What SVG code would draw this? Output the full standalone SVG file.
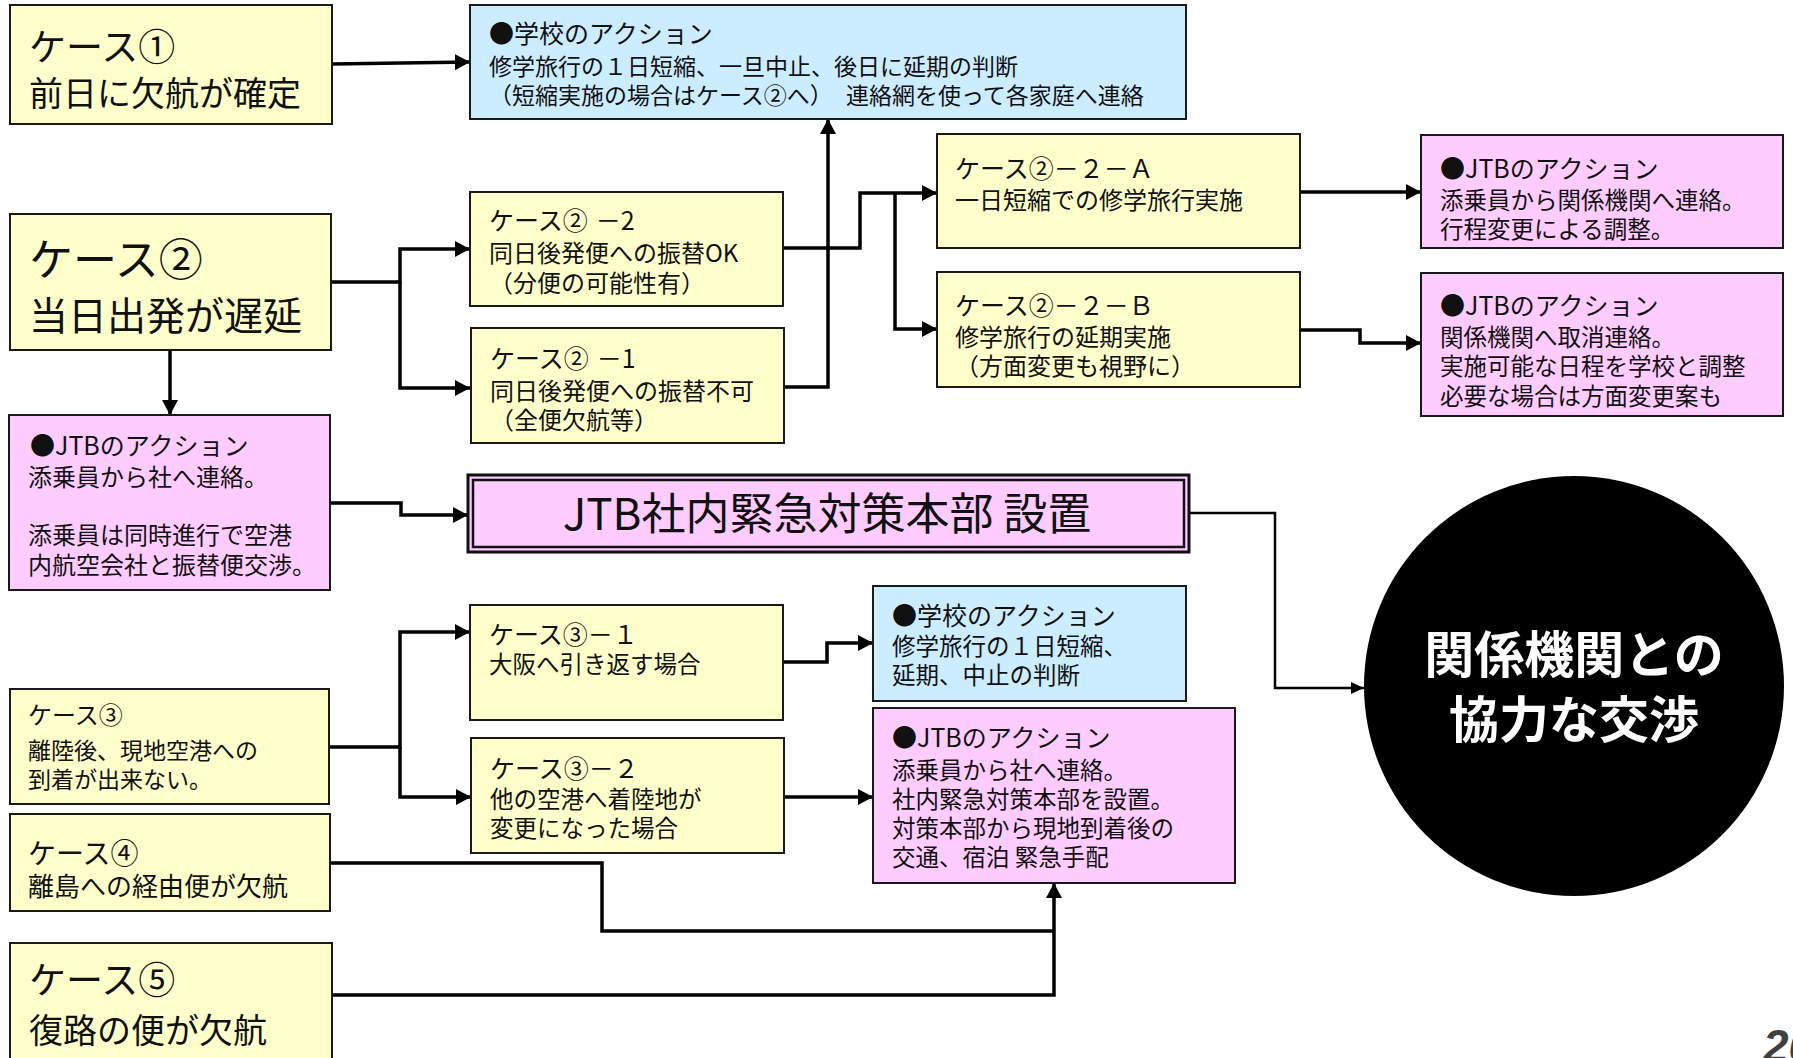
<svg xmlns="http://www.w3.org/2000/svg" width="1793" height="1058" viewBox="0 0 1793 1058">
<style>
text{font-family:"Noto Sans CJK JP","Noto Sans",sans-serif;fill:#111}
.bx{stroke:#1a1a1a;stroke-width:2}
.y{fill:#FFFFCC}.p{fill:#FFCCFF}.b{fill:#CCECFF}
.t{font-size:25px}.s{font-size:23.5px}.m{font-size:24px}
.conn{fill:none;stroke:#000;stroke-width:3.5}
.thin{fill:none;stroke:#000;stroke-width:2.5}
</style>
<defs>
<marker id="ah" markerWidth="16" markerHeight="16" refX="15" refY="8" orient="auto" markerUnits="userSpaceOnUse"><path d="M0,0 L15,8 L0,16 z" fill="#000"/></marker>
<marker id="ah2" markerWidth="14" markerHeight="12" refX="13" refY="6" orient="auto" markerUnits="userSpaceOnUse"><path d="M0,0 L13,6 L0,12 z" fill="#000"/></marker>
</defs>

<g id="connectors">
<path class="conn" d="M332,64 L470,62" marker-end="url(#ah)"/>
<path class="conn" d="M331,282 H400 V249 H470" marker-end="url(#ah)"/>
<path class="conn" d="M400,282 V388 H470" marker-end="url(#ah)"/>
<path class="conn" d="M170,350 V415" marker-end="url(#ah)"/>
<path class="conn" d="M783,248 H860 V193 H937" marker-end="url(#ah)"/>
<path class="conn" d="M895,193 V329 H937" marker-end="url(#ah)"/>
<path class="conn" d="M784,387 H828 V119" marker-end="url(#ah)"/>
<path class="conn" d="M1300,192 H1421" marker-end="url(#ah)"/>
<path class="conn" d="M1300,330 H1360 V343 H1421" marker-end="url(#ah)"/>
<path class="conn" d="M330,503 H401 V515 H468" marker-end="url(#ah)"/>
<path class="thin" d="M1189,513 H1275 V688 H1364" marker-end="url(#ah2)"/>
<path class="conn" d="M329,747 H400 V632 H470" marker-end="url(#ah)"/>
<path class="conn" d="M400,747 V797 H471" marker-end="url(#ah)"/>
<path class="conn" d="M783,662 H827 V643 H873" marker-end="url(#ah)"/>
<path class="conn" d="M784,797 H873" marker-end="url(#ah)"/>
<path class="conn" d="M330,863 H602 V931 H1054"/>
<path class="conn" d="M332,995 H1054 V883" marker-end="url(#ah)"/>
</g>

<g id="case1">
<rect class="bx y" x="10" y="5" width="322" height="119"/>
<text x="29" y="61" style="font-size:37px">ケース①</text>
<text x="29" y="106" style="font-size:34px">前日に欠航が確定</text>
</g>

<g id="school1">
<rect class="bx b" x="470" y="5" width="716" height="114"/>
<text x="489" y="43" class="t">●学校のアクション</text>
<text x="489" y="75" style="font-size:23px">修学旅行の１日短縮、一旦中止、後日に延期の判断</text>
<text y="104" style="font-size:23px"><tspan x="489">（短縮実施の場合はケース②へ）</tspan><tspan x="846">連絡網を使って各家庭へ連絡</tspan></text>
</g>

<g id="case2">
<rect class="bx y" x="10" y="214" width="321" height="136"/>
<text x="29" y="276" style="font-size:44px">ケース②</text>
<text x="29" y="330" style="font-size:39px">当日出発が遅延</text>
</g>

<g id="case2-2">
<rect class="bx y" x="470" y="192" width="313" height="114"/>
<text x="489" y="230" class="t">ケース②<tspan dx="8">－2</tspan></text>
<text x="489" y="262" class="m">同日後発便への振替OK</text>
<text x="489" y="292" class="m">（分便の可能性有）</text>
</g>

<g id="case2-1">
<rect class="bx y" x="471" y="328" width="313" height="115"/>
<text x="490" y="368" class="t">ケース②<tspan dx="8">－1</tspan></text>
<text x="490" y="400" class="m">同日後発便への振替不可</text>
<text x="490" y="429" class="m">（全便欠航等）</text>
</g>

<g id="case2-2-A">
<rect class="bx y" x="937" y="134" width="363" height="114"/>
<text x="955" y="178" class="t">ケース②－２－Ａ</text>
<text x="955" y="209" class="m">一日短縮での修学旅行実施</text>
</g>

<g id="case2-2-B">
<rect class="bx y" x="937" y="272" width="363" height="115"/>
<text x="955" y="315" class="t">ケース②－２－Ｂ</text>
<text x="955" y="346" class="m">修学旅行の延期実施</text>
<text x="955" y="375" class="m">（方面変更も視野に）</text>
</g>

<g id="jtb-a">
<rect class="bx p" x="1421" y="135" width="362" height="113"/>
<text x="1440" y="178" class="t">●JTBのアクション</text>
<text x="1440" y="209" class="s">添乗員から関係機関へ連絡。</text>
<text x="1440" y="238" class="s">行程変更による調整。</text>
</g>

<g id="jtb-b">
<rect class="bx p" x="1421" y="273" width="362" height="143"/>
<text x="1440" y="315" class="t">●JTBのアクション</text>
<text x="1440" y="346" class="s">関係機関へ取消連絡。</text>
<text x="1440" y="375" class="s">実施可能な日程を学校と調整</text>
<text x="1440" y="405" class="s">必要な場合は方面変更案も</text>
</g>

<g id="jtb-left">
<rect class="bx p" x="9" y="415" width="321" height="175"/>
<text x="30" y="455" class="t">●JTBのアクション</text>
<text x="28" y="486" class="m">添乗員から社へ連絡。</text>
<text x="28" y="544" class="m">添乗員は同時進行で空港</text>
<text x="28" y="574" class="m">内航空会社と振替便交渉。</text>
</g>

<g id="hq">
<rect x="468" y="475" width="721" height="77" fill="#FFCCFF" stroke="#111" stroke-width="3"/>
<rect x="473" y="480" width="711" height="67" fill="none" stroke="#111" stroke-width="2.5"/>
<text x="827" y="530" text-anchor="middle" style="font-size:44px">JTB社内緊急対策本部 設置</text>
</g>

<g id="negotiation">
<ellipse cx="1574" cy="686" rx="210" ry="210" fill="#000"/>
<text x="1574" y="673" text-anchor="middle" style="font-size:50px;font-weight:700;fill:#fff">関係機関との</text>
<text x="1574" y="738" text-anchor="middle" style="font-size:50px;font-weight:700;fill:#fff">協力な交渉</text>
</g>

<g id="case3-1">
<rect class="bx y" x="470" y="605" width="313" height="115"/>
<text x="489" y="644" class="t">ケース③－１</text>
<text x="489" y="673" class="s">大阪へ引き返す場合</text>
</g>

<g id="case3-2">
<rect class="bx y" x="471" y="738" width="313" height="115"/>
<text x="490" y="778" class="t">ケース③－２</text>
<text x="490" y="808" class="s">他の空港へ着陸地が</text>
<text x="490" y="837" class="s">変更になった場合</text>
</g>

<g id="school2">
<rect class="bx b" x="873" y="586" width="313" height="115"/>
<text x="892" y="625" class="t">●学校のアクション</text>
<text x="892" y="655" class="s">修学旅行の１日短縮、</text>
<text x="892" y="684" class="s">延期、中止の判断</text>
</g>

<g id="jtb3">
<rect class="bx p" x="873" y="708" width="362" height="175"/>
<text x="892" y="747" class="t">●JTBのアクション</text>
<text x="892" y="779" class="s">添乗員から社へ連絡。</text>
<text x="892" y="808" class="s">社内緊急対策本部を設置。</text>
<text x="892" y="837" class="s">対策本部から現地到着後の</text>
<text x="892" y="866" class="s">交通、宿泊 緊急手配</text>
</g>

<g id="case3">
<rect class="bx y" x="10" y="689" width="319" height="115"/>
<text x="28" y="724" style="font-size:24px">ケース③</text>
<text x="28" y="759" style="font-size:23px">離陸後、現地空港への</text>
<text x="28" y="788" style="font-size:23px">到着が出来ない。</text>
</g>

<g id="case4">
<rect class="bx y" x="10" y="814" width="320" height="97"/>
<text x="28" y="864" style="font-size:28px">ケース④</text>
<text x="28" y="896" style="font-size:26px">離島への経由便が欠航</text>
</g>

<g id="case5">
<rect class="bx y" x="10" y="943" width="322" height="130"/>
<text x="29" y="994" style="font-size:37px">ケース⑤</text>
<text x="29" y="1043" style="font-size:34px">復路の便が欠航</text>
</g>

<text x="1763" y="1062" style="font-family:'Liberation Sans',sans-serif;font-size:46px;font-weight:700;font-style:italic;fill:#404040">20</text>
</svg>
